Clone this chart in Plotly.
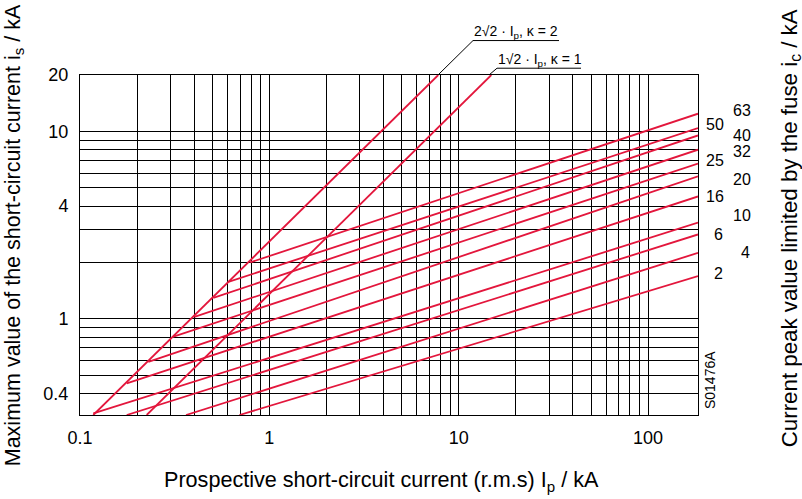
import math
import plotly.graph_objects as go

# ---------------- data ----------------
# gridline values
x_grid = [0.1, 0.2, 0.3, 0.4, 0.5, 0.6, 0.7, 0.8, 0.9,
          1, 2, 3, 4, 5, 6, 7, 8, 9,
          10, 20, 30, 40, 50, 60, 70, 80, 90, 100]
x_tick_vals = [0.1, 1, 10, 100]
x_tick_text = ["0.1", "1", "10", "100"]
y_grid = [0.4, 0.5, 0.6, 0.7, 0.8, 0.9, 1, 2, 3, 4, 5, 6, 7, 8, 9, 10, 20]
y_tick_vals = [0.4, 1, 4, 10, 20]
y_tick_text = ["0.4", "1", "4", "10", "20"]

# fuse rated currents (A) and their cut-off lines
fuse_ratings = ["63", "50", "40", "32", "25", "20", "16", "10", "6", "4", "2"]
fuse_ip_start = [0.792, 0.608, 0.506, 0.402, 0.309, 0.2296, 0.1765, 0.1176, 0.1765, 0.363, 0.695]
fuse_is_start = [2.00, 1.575, 1.294, 1.025, 0.802, 0.590, 0.453, 0.313, 0.307, 0.307, 0.307]
fuse_ip_end = [183.6] * 11
fuse_is_end = [12.43, 10.41, 9.52, 7.99, 6.73, 5.76, 4.50, 3.26, 2.82, 2.25, 1.69]

# peak current lines
kappa2_ip = [0.1176, 7.80]
kappa2_is = [0.307, 20.0]
kappa1_ip = [0.225, 14.87]
kappa1_is = [0.307, 20.0]

x_range = [0.1, 183.6]
y_range = [0.307, 20.0]

# ---------------- layout helpers ----------------
W, H = 802, 499
PL, PR, PT, PB = 80, 698, 74.5, 415          # plot area in pixels
ML, MR, MT, MB = PL, W - PR, PT, H - PB
PW, PH = PR - PL, PB - PT


def px(xp):
    return (xp - PL) / PW


def py(yp):
    return (PB - yp) / PH


RED = "#E3163C"
FONT = "Liberation Sans, Arial, Helvetica, sans-serif"

fig = go.Figure()

for ip0, is0, ip1, is1, name in zip(fuse_ip_start, fuse_is_start, fuse_ip_end, fuse_is_end, fuse_ratings):
    fig.add_trace(go.Scatter(x=[ip0, ip1], y=[is0, is1], mode="lines",
                             line=dict(color=RED, width=1.8), name=name + " A"))

fig.add_trace(go.Scatter(x=kappa2_ip, y=kappa2_is, mode="lines",
                         line=dict(color=RED, width=1.8), name="κ = 2"))
fig.add_trace(go.Scatter(x=kappa1_ip, y=kappa1_is, mode="lines",
                         line=dict(color=RED, width=1.8), name="κ = 1"))

axis_common = dict(
    type="log", showgrid=True, gridcolor="#000000", gridwidth=1,
    showline=True, linecolor="#000000", linewidth=1, mirror=True,
    ticks="", zeroline=False,
    tickfont=dict(family=FONT, size=18, color="#000000"),
)

fig.update_xaxes(
    range=[math.log10(x_range[0]), math.log10(x_range[1])],
    tickmode="array", tickvals=x_tick_vals, ticktext=x_tick_text,
    minor=dict(tickmode="array", tickvals=x_grid, showgrid=True,
               gridcolor="#000000", gridwidth=1, ticks=""),
    ticklabelstandoff=6,
    **axis_common,
)
fig.update_yaxes(
    range=[math.log10(y_range[0]), math.log10(y_range[1])],
    tickmode="array", tickvals=y_tick_vals, ticktext=y_tick_text,
    minor=dict(tickmode="array", tickvals=y_grid, showgrid=True,
               gridcolor="#000000", gridwidth=1, ticks=""),
    ticklabelstandoff=7,
    **axis_common,
)

annotations = []
# axis titles
annotations.append(dict(text="Prospective short-circuit current (r.m.s) I<sub>p</sub> / kA",
                        x=px(381.5), y=py(481), xref="paper", yref="paper",
                        showarrow=False, xanchor="center", yanchor="middle",
                        font=dict(family=FONT, size=21.6, color="#000")))
annotations.append(dict(text="Maximum value of the short-circuit current i<sub>s</sub> / kA",
                        x=px(14), y=py(235), xref="paper", yref="paper", textangle=-90,
                        showarrow=False, xanchor="center", yanchor="middle",
                        font=dict(family=FONT, size=21.5, color="#000")))
annotations.append(dict(text="Current peak value limited by the fuse i<sub>c</sub> / kA",
                        x=px(791), y=py(228), xref="paper", yref="paper", textangle=-90,
                        showarrow=False, xanchor="center", yanchor="middle",
                        font=dict(family=FONT, size=22.3, color="#000")))
# drawing code
annotations.append(dict(text="S01476A", x=px(710), y=py(380), xref="paper", yref="paper",
                        textangle=-90, showarrow=False, xanchor="center", yanchor="middle",
                        font=dict(family=FONT, size=14, color="#000")))

# fuse rating labels (staggered in two columns)
label_pos = {
    "63": (753, 110.5), "50": (726, 124), "40": (753, 135), "32": (753, 151),
    "25": (726, 160), "20": (753, 179), "16": (726, 196), "10": (753, 215),
    "6": (725, 234), "4": (752, 252), "2": (725, 273),
}
for name in fuse_ratings:
    lx, ly = label_pos[name]
    annotations.append(dict(text=name, x=px(lx), y=py(ly), xref="paper", yref="paper",
                            showarrow=False, xanchor="right", yanchor="middle",
                            font=dict(family=FONT, size=16, color="#000")))

# κ line labels with leaders
annotations.append(dict(text="2√2 · I<sub>p</sub>, κ = 2", x=px(516), y=py(31), xref="paper",
                        yref="paper", showarrow=False, xanchor="center", yanchor="middle",
                        font=dict(family=FONT, size=14, color="#000")))
annotations.append(dict(text="1√2 · I<sub>p</sub>, κ = 1", x=px(539.5), y=py(59), xref="paper",
                        yref="paper", showarrow=False, xanchor="center", yanchor="middle",
                        font=dict(family=FONT, size=14, color="#000")))

line_style = dict(color="#000000", width=1)
shapes = [
    dict(type="line", xref="paper", yref="paper", x0=px(438), y0=py(74.5), x1=px(473), y1=py(40), line=line_style),
    dict(type="line", xref="paper", yref="paper", x0=px(473), y0=py(40), x1=px(559), y1=py(40), line=line_style),
    dict(type="line", xref="paper", yref="paper", x0=px(489), y0=py(74.5), x1=px(497), y1=py(67.7), line=line_style),
    dict(type="line", xref="paper", yref="paper", x0=px(497), y0=py(67.7), x1=px(581), y1=py(67.7), line=line_style),
]

fig.update_layout(
    width=W, height=H,
    margin=dict(l=ML, r=MR, t=MT, b=MB, pad=0, autoexpand=False),
    plot_bgcolor="#ffffff", paper_bgcolor="#ffffff",
    showlegend=False,
    annotations=annotations,
    shapes=shapes,
    font=dict(family=FONT, color="#000"),
)

# remove the default 8px page margin so the figure fills the window exactly
fig.write_html("out.html",
               config={"displayModeBar": False},
               post_script="document.body.style.margin='0px';document.body.style.overflow='hidden';")
